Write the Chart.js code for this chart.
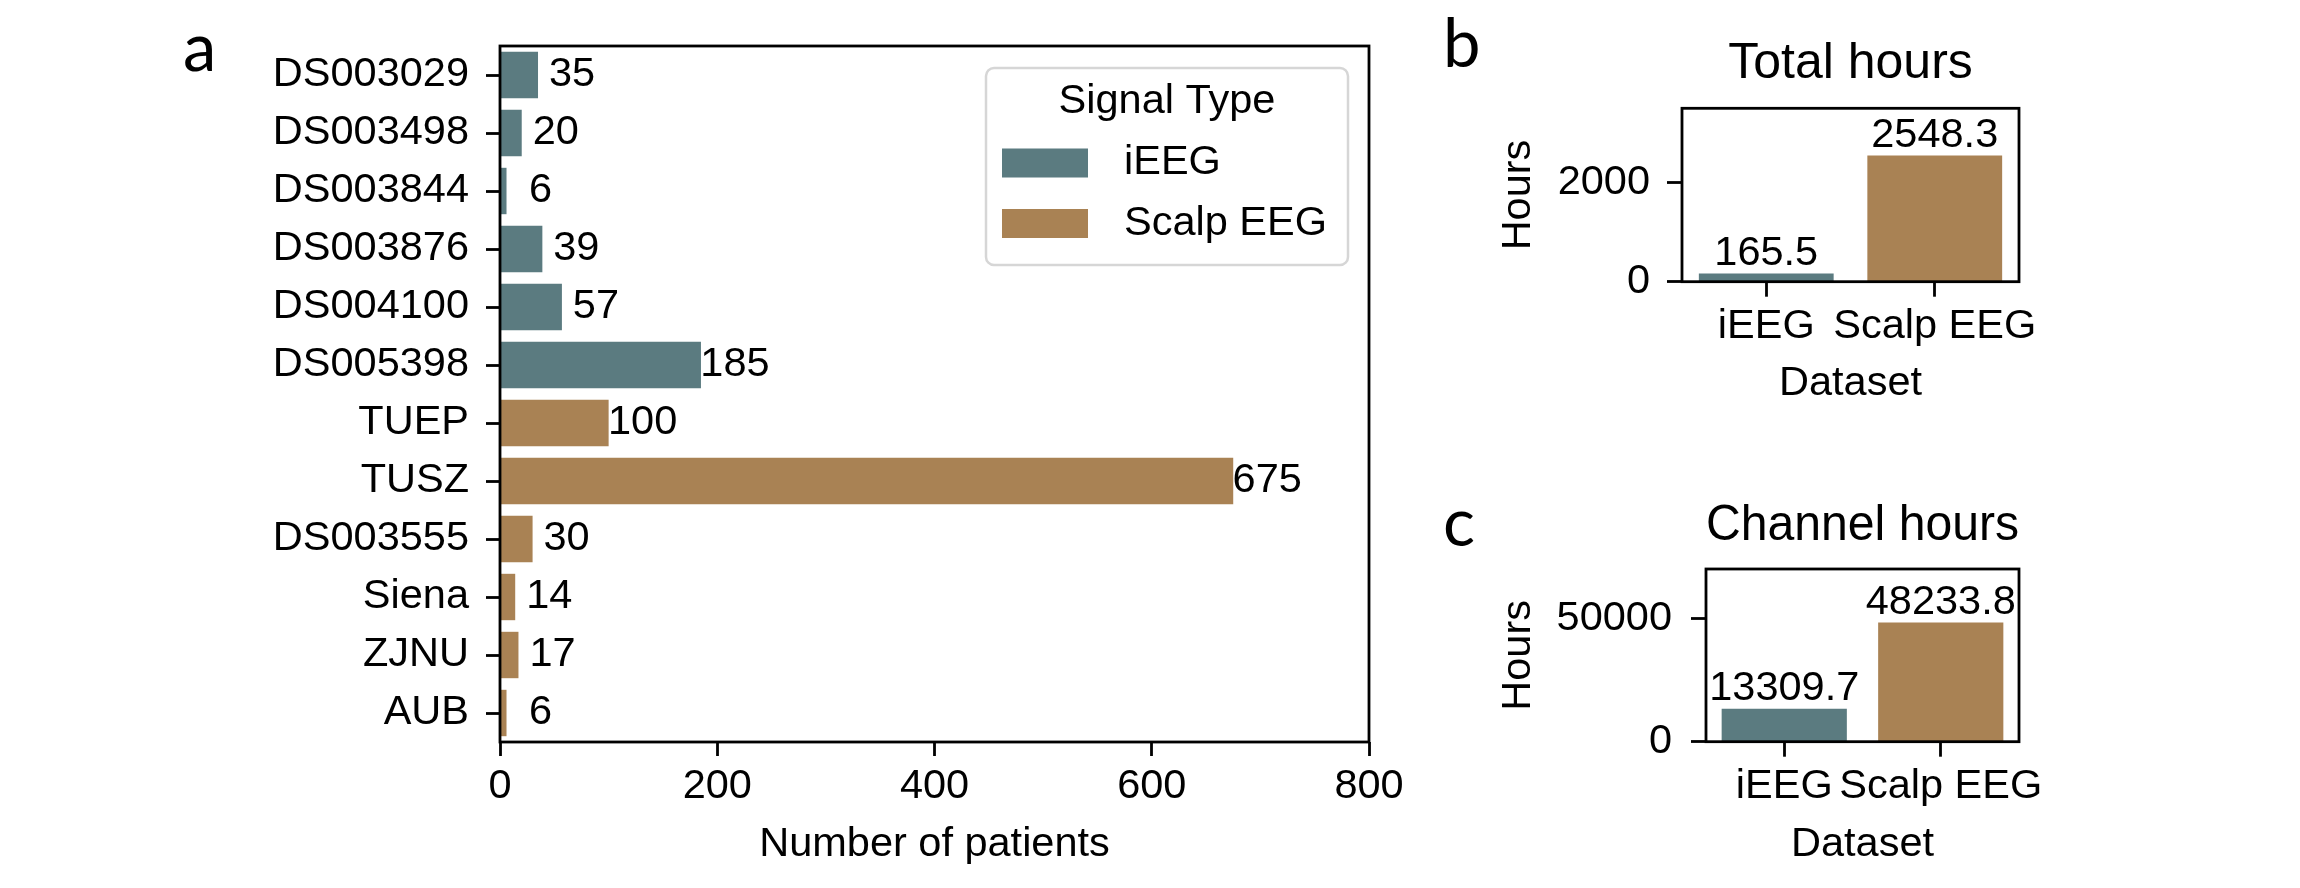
<!DOCTYPE html>
<html>
<head>
<meta charset="utf-8">
<title>Patients and hours per dataset</title>
<script src="https://cdn.jsdelivr.net/npm/chart.js@4.4.1/dist/chart.umd.min.js"></script>
<style>
  html, body { margin: 0; padding: 0; background: #fff; }
  body { width: 2300px; height: 888px; position: relative; overflow: hidden; }
  canvas { position: absolute; }
  #patients { left: 0; top: 0; }
  #hours { left: 1420px; top: 0; }
  #chanHours { left: 1420px; top: 444px; }
</style>
</head>
<body>
<canvas id="patients" width="1420" height="888"></canvas>
<canvas id="hours" width="880" height="444"></canvas>
<canvas id="chanHours" width="880" height="444"></canvas>
<script>
// data
const datasetNames = ["DS003029", "DS003498", "DS003844", "DS003876", "DS004100", "DS005398",
  "TUEP", "TUSZ", "DS003555", "Siena", "ZJNU", "AUB"];
const patientCounts = [35, 20, 6, 39, 57, 185, 100, 675, 30, 14, 17, 6];
const signalTypes = ["iEEG", "iEEG", "iEEG", "iEEG", "iEEG", "iEEG",
  "Scalp EEG", "Scalp EEG", "Scalp EEG", "Scalp EEG", "Scalp EEG", "Scalp EEG"];

const typeNames = ["iEEG", "Scalp EEG"];
const totalHours = [165.5, 2548.3];
const channelHours = [13309.7, 48233.8];

const patientTicks = [0, 200, 400, 600, 800];
const totalHourTicks = [0, 2000];
const channelHourTicks = [0, 50000];

const FONT = "'Liberation Sans', Arial, sans-serif";
const COLORS = { "iEEG": "#5b7b80", "Scalp EEG": "#a98254" };
const TXT = 41.5;

Chart.defaults.font.family = FONT;
Chart.defaults.font.size = TXT;
Chart.defaults.color = "#000";

// axes box drawn like matplotlib spines
const frame = {
  id: "frame",
  afterDatasetsDraw(chart) {
    const { ctx, chartArea: a } = chart;
    ctx.save();
    ctx.lineWidth = 2.8;
    ctx.strokeStyle = "#000";
    ctx.strokeRect(a.left, a.top, a.right - a.left, a.bottom - a.top);
    ctx.restore();
  },
};

const panelLetter = (letter, x, y) => ({
  id: "panelLetter",
  afterDraw(chart) {
    const ctx = chart.ctx;
    ctx.save();
    ctx.font = "67px Lato, 'Open Sans', sans-serif";
    ctx.fillStyle = "#000";
    ctx.textAlign = "left";
    ctx.textBaseline = "alphabetic";
    ctx.fillText(letter, x, y);
    ctx.restore();
  },
});

// count labels to the right of the horizontal bars
const countLabels = {
  id: "countLabels",
  afterDatasetsDraw(chart) {
    const { ctx } = chart;
    const meta = chart.getDatasetMeta(0);
    ctx.save();
    ctx.font = `${TXT}px ${FONT}`;
    ctx.fillStyle = "#000";
    ctx.textAlign = "center";
    ctx.textBaseline = "middle";
    meta.data.forEach((bar, i) => {
      ctx.fillText(String(patientCounts[i]), bar.x + 34, bar.y);
    });
    ctx.restore();
  },
};

// value labels on top of vertical bars
const topLabels = (values) => ({
  id: "topLabels",
  afterDatasetsDraw(chart) {
    const { ctx } = chart;
    const meta = chart.getDatasetMeta(0);
    ctx.save();
    ctx.font = `${TXT}px ${FONT}`;
    ctx.fillStyle = "#000";
    ctx.textAlign = "center";
    ctx.textBaseline = "alphabetic";
    meta.data.forEach((bar, i) => {
      ctx.fillText(values[i].toFixed(1), bar.x, bar.y - 9);
    });
    ctx.restore();
  },
});

const legendBox = {
  id: "legendBox",
  afterDraw(chart) {
    const { ctx, chartArea: a } = chart;
    const w = 362, h = 197;
    const right = a.right - 21, top = a.top + 22;
    const left = right - w;
    ctx.save();
    ctx.beginPath();
    ctx.roundRect(left, top, w, h, 8);
    ctx.fillStyle = "#fff";
    ctx.fill();
    ctx.lineWidth = 2.5;
    ctx.strokeStyle = "#d6d6d6";
    ctx.stroke();
    ctx.font = `${TXT}px ${FONT}`;
    ctx.textBaseline = "middle";
    ctx.textAlign = "center";
    ctx.fillStyle = "#000";
    ctx.fillText("Signal Type", left + w / 2, top + 34);
    ctx.textAlign = "left";
    typeNames.forEach((name, i) => {
      const y = top + 95 + i * 60.5;
      ctx.fillStyle = COLORS[name];
      ctx.fillRect(left + 16, y - 14.5, 86, 29);
      ctx.fillStyle = "#000";
      ctx.fillText(name, left + 138, y);
    });
    ctx.restore();
  },
};

const tickGrid = (len) => ({
  drawOnChartArea: false,
  drawTicks: true,
  offset: false,
  tickLength: len,
  tickWidth: 2.8,
  tickColor: "#000",
});

const fixedTicks = (list) => (s) => { s.ticks = list.map((v) => ({ value: v })); };

new Chart(document.getElementById("patients"), {
  type: "bar",
  data: {
    labels: datasetNames,
    datasets: [{
      data: patientCounts,
      backgroundColor: signalTypes.map((t) => COLORS[t]),
      barPercentage: 0.8,
      categoryPercentage: 1,
    }],
  },
  options: {
    indexAxis: "y",
    responsive: false,
    animation: false,
    layout: { padding: { top: 46, right: 51, left: 0, bottom: 0 } },
    plugins: { legend: { display: false }, tooltip: { enabled: false } },
    scales: {
      x: {
        min: patientTicks[0],
        max: patientTicks[patientTicks.length - 1],
        afterBuildTicks: fixedTicks(patientTicks),
        ticks: { color: "#000", padding: 6, maxRotation: 0 },
        grid: tickGrid(14),
        border: { display: false },
        title: { display: true, text: "Number of patients", color: "#000", padding: { top: 0, bottom: 19 } },
        afterFit: (s) => { s.height = 146; },
      },
      y: {
        ticks: { color: "#000", padding: 17, autoSkip: false },
        grid: tickGrid(14),
        border: { display: false },
        afterFit: (s) => { s.width = 500; },
      },
    },
  },
  plugins: [countLabels, frame, legendBox, panelLetter("a", 183, 71)],
});

function hoursChart(id, values, yMax, yTicks, cfg) {
  return new Chart(document.getElementById(id), {
    type: "bar",
    data: {
      labels: typeNames,
      datasets: [{
        data: values,
        backgroundColor: typeNames.map((t) => COLORS[t]),
        barPercentage: 0.8,
        categoryPercentage: 1,
      }],
    },
    options: {
      responsive: false,
      animation: false,
      layout: { padding: { top: 0, right: 281, left: 0, bottom: 0 } },
      plugins: {
        legend: { display: false },
        tooltip: { enabled: false },
        title: {
          display: true,
          text: cfg.title,
          color: "#000",
          fullSize: false,
          font: { size: 50, weight: "normal" },
          padding: { top: cfg.titleTop, bottom: cfg.titleBottom },
        },
      },
      scales: {
        x: {
          ticks: { color: "#000", padding: 5, autoSkip: false, maxRotation: 0 },
          grid: tickGrid(15),
          border: { display: false },
          title: { display: true, text: "Dataset", color: "#000", padding: { top: 0, bottom: cfg.xTitlePad } },
          afterFit: (s) => { s.height = cfg.xHeight; },
        },
        y: {
          min: 0,
          max: yMax,
          afterBuildTicks: fixedTicks(yTicks),
          ticks: { color: "#000", padding: cfg.yPad, callback: (v) => String(v) },
          grid: tickGrid(15),
          border: { display: false },
          title: { display: true, text: "Hours", color: "#000", padding: { top: 74, bottom: 0 } },
          afterFit: (s) => { s.width = cfg.yWidth; },
        },
      },
    },
    plugins: [topLabels(values), frame, panelLetter(cfg.letter, 23, cfg.letterY)],
  });
}

hoursChart("hours", totalHours, 3504, totalHourTicks, {
  title: "Total hours", titleTop: 34.7, titleBottom: 13.6,
  xHeight: 162.3, xTitlePad: 35.6, yWidth: 262, yPad: 17,
  letter: "b", letterY: 67,
});

hoursChart("chanHours", channelHours, 69950, channelHourTicks, {
  title: "Channel hours", titleTop: 52, titleBottom: 13,
  xHeight: 146.3, xTitlePad: 19, yWidth: 286, yPad: 19,
  letter: "c", letterY: 102,
});
</script>
</body>
</html>
